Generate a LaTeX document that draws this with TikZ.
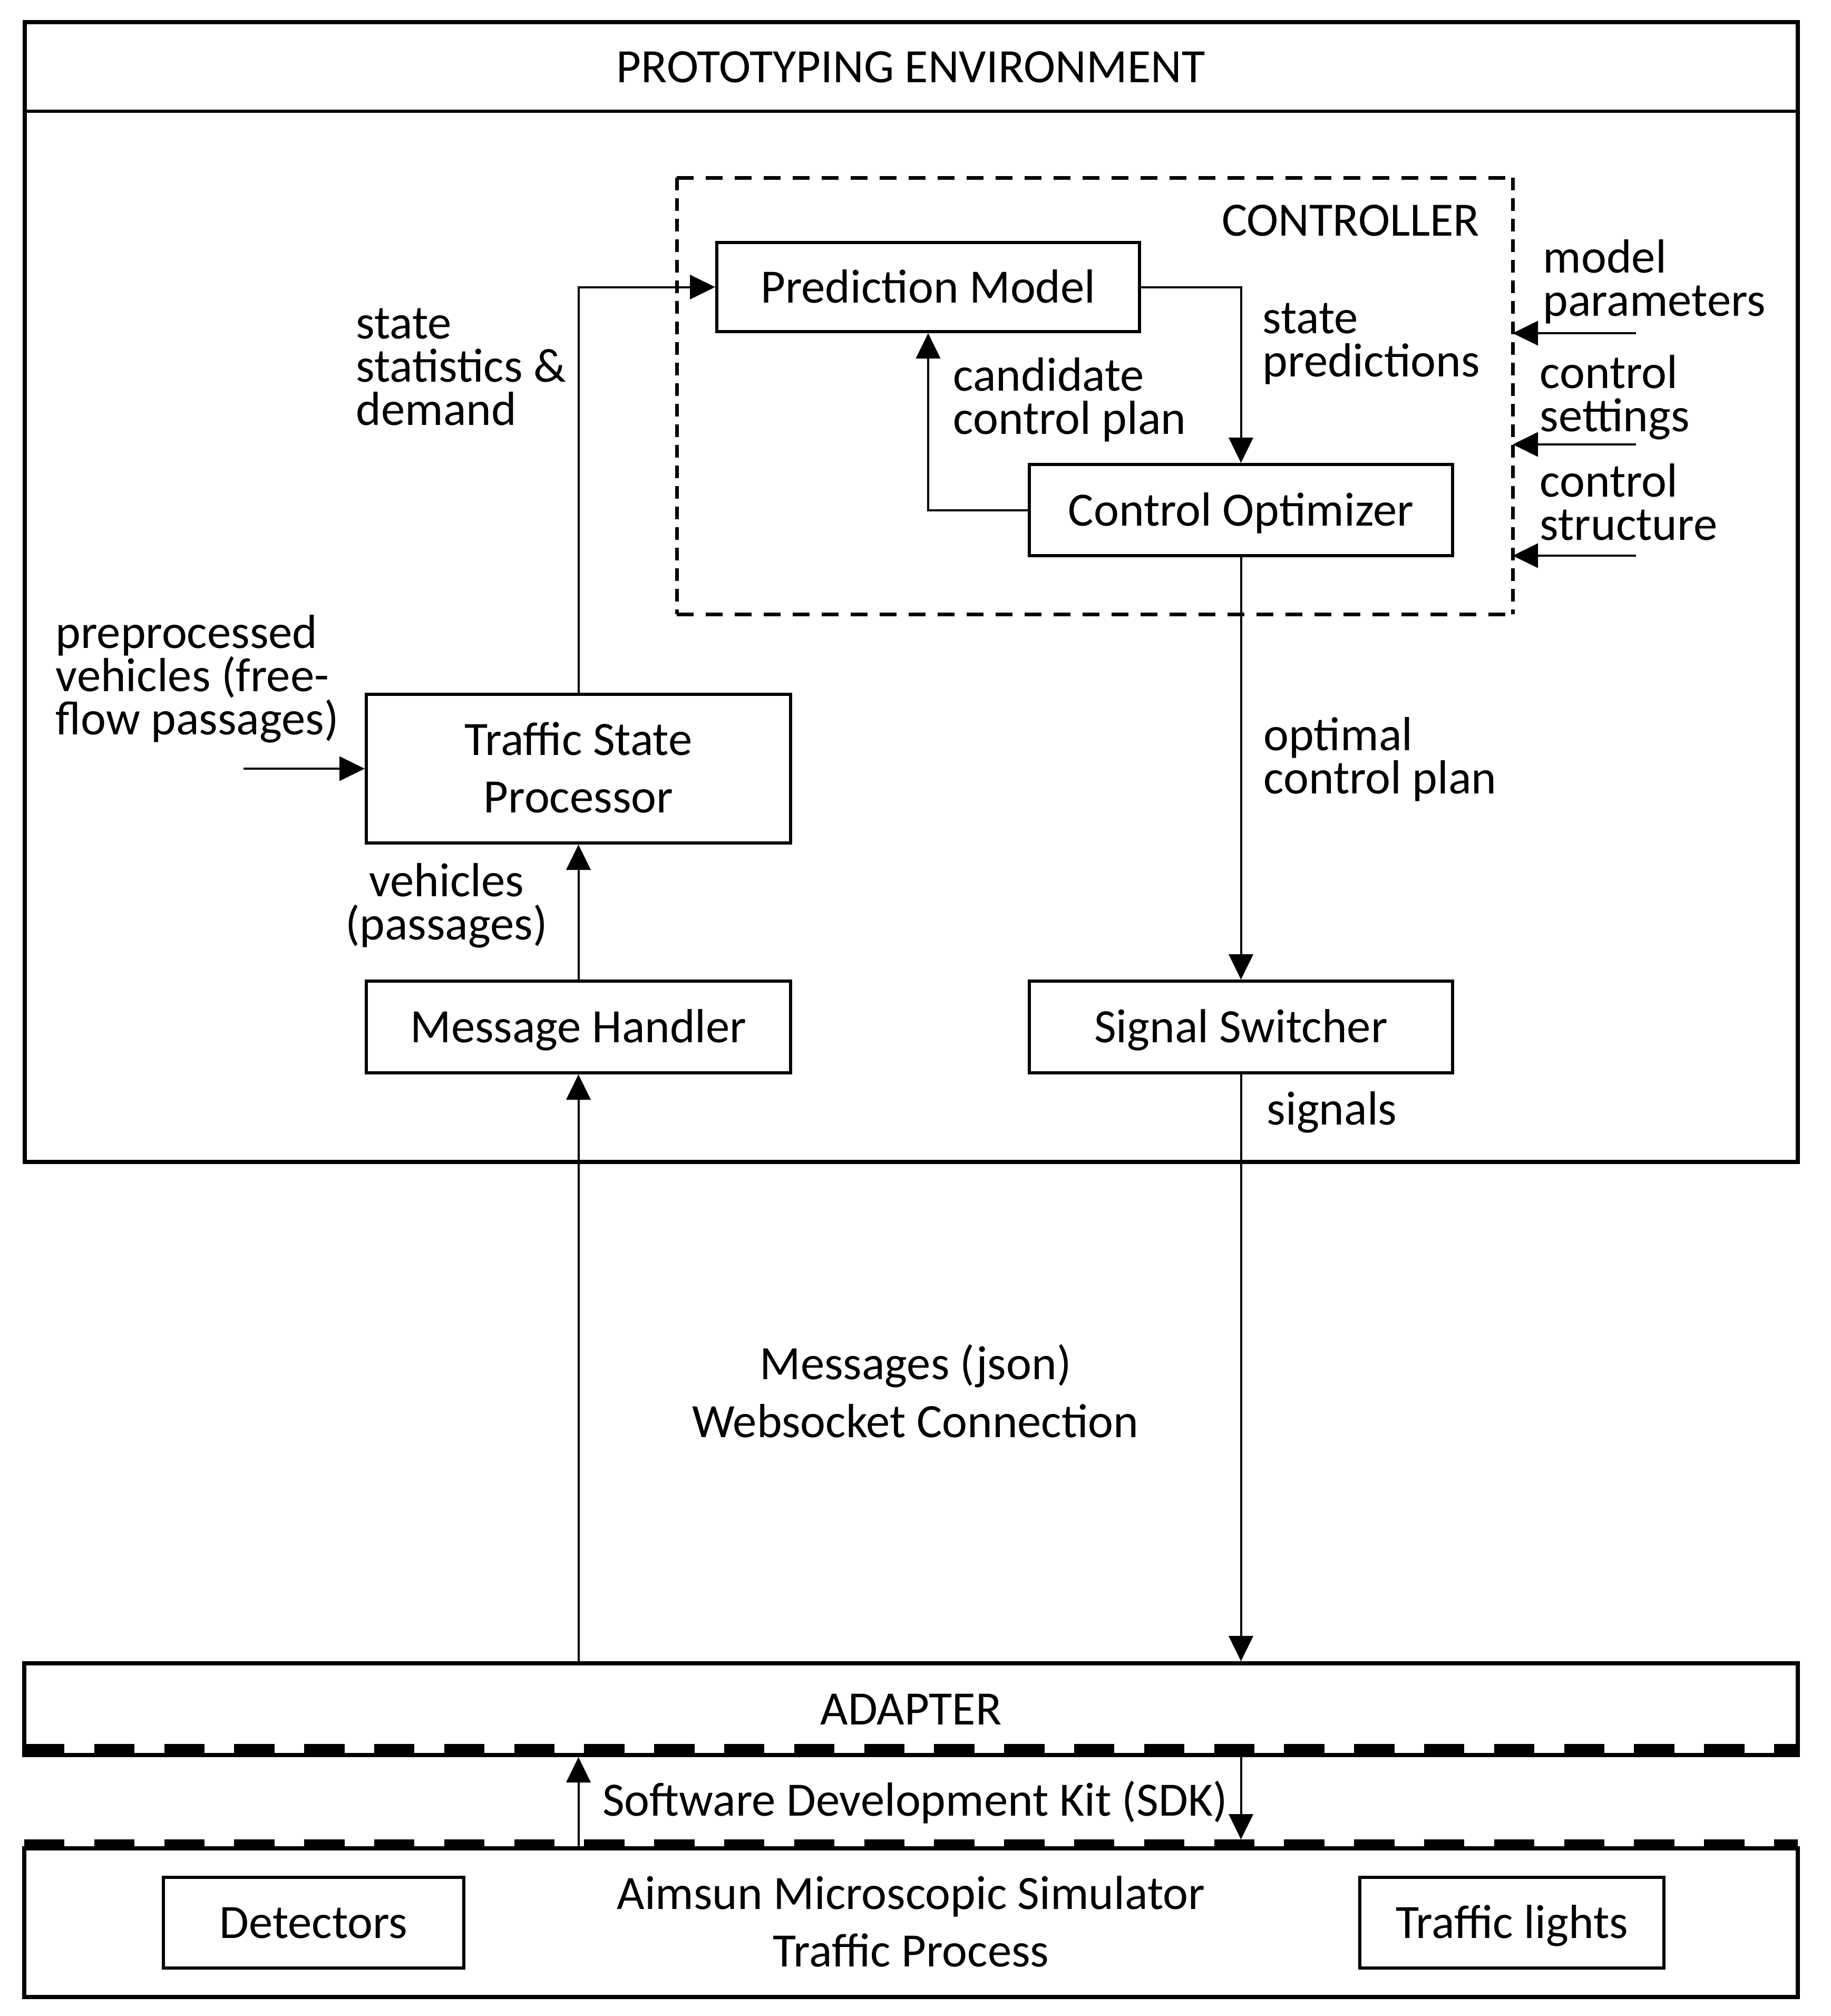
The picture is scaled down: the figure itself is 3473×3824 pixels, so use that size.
\documentclass[tikz,border=0pt]{standalone}
\usepackage{fontspec}
\setmainfont{Carlito}
\usetikzlibrary{arrows.meta}
\newcommand{\lstack}[2]{\vtop{\baselineskip=#1\lineskiplimit=-100pt\lineskip=0pt\halign{##\hfil\cr#2\crcr}}}
\newcommand{\cstack}[2]{\vtop{\baselineskip=#1\lineskiplimit=-100pt\lineskip=0pt\halign{\hfil##\hfil\cr#2\crcr}}}
\newcommand{\inbox}[1]{\raisebox{-7.4pt}[0pt][0pt]{#1}}
\newcommand{\inboxtwo}[1]{\raisebox{6.5pt}[0pt][0pt]{\cstack{27.4pt}{#1}}}
\begin{document}
\begin{tikzpicture}[x=0.25pt,y=-0.25pt,
  font=\fontsize{22.7pt}{27.4pt}\selectfont,
  box/.style={draw, line width=1.5pt, inner sep=0pt},
  outerbox/.style={draw, line width=2pt, inner sep=0pt},
  conn/.style={line width=1pt, -{Triangle[length=12pt,width=11.5pt]}},
  lbl/.style={inner sep=0pt, anchor=base west},
  clbl/.style={inner sep=0pt, anchor=base},
  ctrlh/.style={line width=1.75pt, dash pattern=on 8pt off 5.75pt},
  ctrlv/.style={line width=1.75pt, dash pattern=on 6pt off 3.75pt},
  band/.style={dash pattern=on 19.1pt off 14.1pt}]
\useasboundingbox (0,0) rectangle (3473,3824);

% prototyping environment
\node[outerbox, minimum width=841.1pt, minimum height=540.5pt] (pe) at (1728.75,1123) {};
\coordinate (hdr) at (0,211);
\draw[line width=1.5pt] (pe.west |- hdr) -- (pe.east |- hdr);
\node[clbl] (petitle) at (1728,156) {PROTOTYPING ENVIRONMENT};

% controller
\node[inner sep=0pt, outer sep=0pt, minimum width=396.5pt, minimum height=207pt] (ctrl) at (2077,751) {};
\draw[ctrlh] (ctrl.north west) -- (ctrl.north east);
\draw[ctrlh] (ctrl.south west) -- (ctrl.south east);
\draw[ctrlv] (ctrl.north west) -- (ctrl.south west);
\draw[ctrlv] (ctrl.north east) -- (ctrl.south east);
\node[inner sep=0pt, anchor=base east] (ctrllbl) at (2808,447) {CONTROLLER};

% boxes
\node[box, minimum width=200.5pt, minimum height=42.25pt] (pm) at (1761,544.5) {\inbox{Prediction Model}};
\node[box, minimum width=200.75pt, minimum height=43.25pt] (co) at (2354.5,967.5) {\inbox{Control Optimizer}};
\node[box, minimum width=201.25pt, minimum height=70.5pt] (tsp) at (1097.5,1458) {\inboxtwo{Traffic State\cr Processor}};
\node[box, minimum width=201.25pt, minimum height=43.5pt] (mh) at (1097.5,1948) {\inbox{Message Handler}};
\node[box, minimum width=200.75pt, minimum height=43.5pt] (ss) at (2354.5,1948) {\inbox{Signal Switcher}};

% adapter and simulator
\node[outerbox, minimum width=841.25pt, minimum height=43.5pt] (adapter) at (1728.5,3242) {\inbox{ADAPTER}};
\node[outerbox, minimum width=841.25pt, minimum height=70.5pt] (aimsun) at (1728.5,3647) {\inboxtwo{Aimsun Microscopic Simulator\cr Traffic Process}};
\node[box, minimum width=142.5pt, minimum height=43pt] (det) at (595,3647) {\inbox{Detectors}};
\node[box, minimum width=144.25pt, minimum height=43pt] (tl) at (2868.5,3647) {\inbox{Traffic lights}};
\coordinate (b1w) at (46,3316.5); \coordinate (b1e) at (3411,3316.5);
\coordinate (b2w) at (46,3495.5); \coordinate (b2e) at (3411,3495.5);
\draw[band, line width=4.25pt] (b1w) -- (b1e);
\draw[band, line width=3.25pt] (b2w) -- (b2e);

% connectors
\draw[conn] (tsp.north) |- (pm.west);
\draw[conn] (pm.east) -| (co.north);
\draw[conn] (co.west) -| (pm.south);
\draw[conn] (co.south) -- (ss.north);
\draw[conn] (ss.south) -- (ss.south |- adapter.north);
\draw[conn] (mh.south |- adapter.north) -- (mh.south);
\draw[conn] (mh.north) -- (tsp.south);
\coordinate (inL) at (462,1458);
\draw[conn] (inL) -- (tsp.west);
\coordinate (inR1) at (3104,632);
\coordinate (inR2) at (3104,843);
\coordinate (inR3) at (3104,1054);
\draw[conn] (inR1) -- (inR1 -| ctrl.east);
\draw[conn] (inR2) -- (inR2 -| ctrl.east);
\draw[conn] (inR3) -- (inR3 -| ctrl.east);
\draw[conn] (mh.south |- aimsun.north) -- (mh.south |- adapter.south);
\coordinate (sdkD) at (2354.5,3489);
\draw[conn] (ss.south |- adapter.south) -- (ss.south |- sdkD);

% labels
\node[lbl] (l1) at (675,642) {\lstack{20.6pt}{state\cr statistics \&\cr demand}};
\node[lbl] (l2) at (1808,741) {\lstack{20.6pt}{candidate\cr control plan}};
\node[lbl] (l3) at (2395,632) {\lstack{20.6pt}{state\cr predictions}};
\node[lbl] (l4) at (2927,517) {\lstack{20.6pt}{model\cr parameters}};
\node[lbl] (l5) at (2921,736) {\lstack{20.6pt}{control\cr settings}};
\node[lbl] (l6) at (2921,942) {\lstack{20.6pt}{control\cr structure}};
\node[lbl] (l7) at (105,1229) {\lstack{20.6pt}{preprocessed\cr vehicles (free-\cr flow passages)}};
\node[clbl] (l8) at (847,1700) {\cstack{20.6pt}{vehicles\cr (passages)}};
\node[lbl] (l9) at (2397,1423) {\lstack{20.6pt}{optimal\cr control plan}};
\node[lbl] (l10) at (2403,2133) {signals};
\node[clbl] (l11) at (1737,2616.5) {\cstack{27.4pt}{Messages (json)\cr Websocket Connection}};
\node[clbl] (l12) at (1736,3444.6) {Software Development Kit (SDK)};
\end{tikzpicture}
\end{document}
